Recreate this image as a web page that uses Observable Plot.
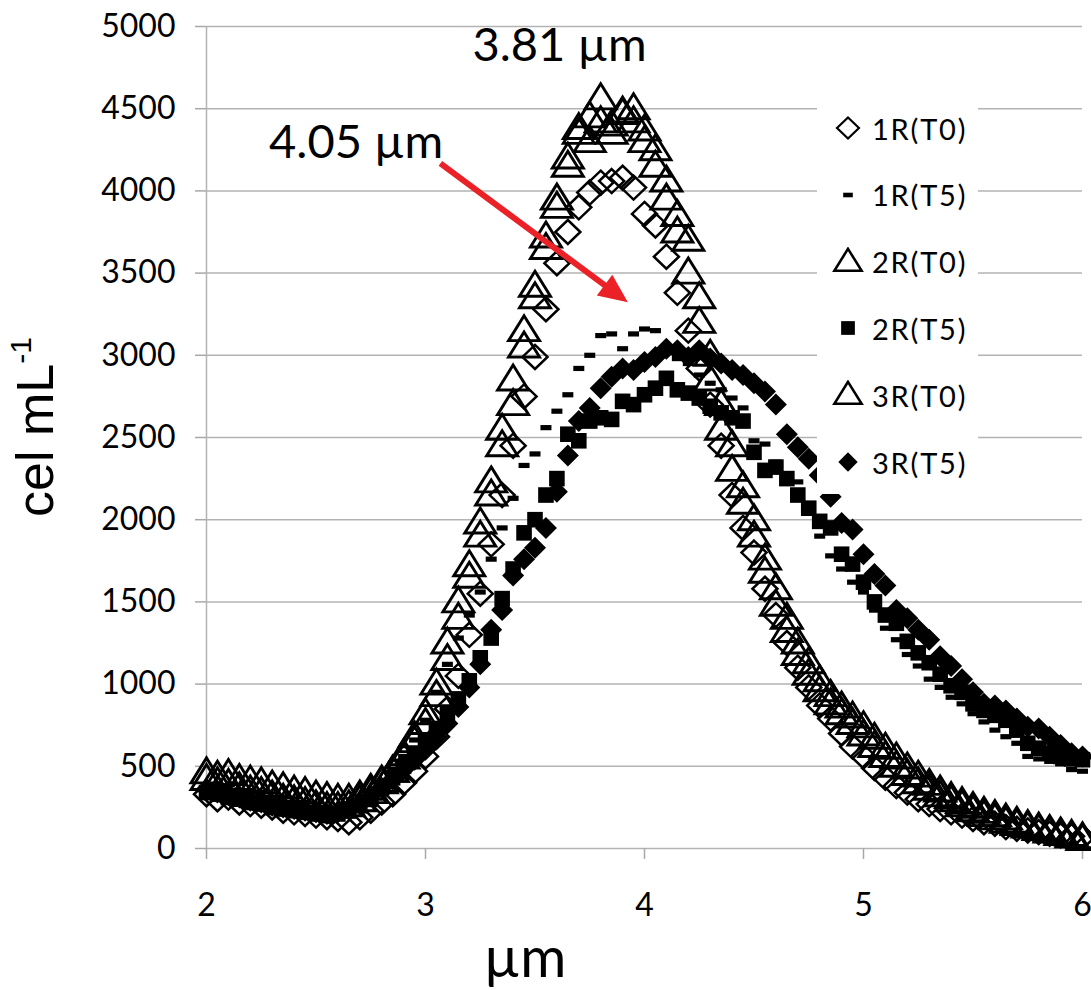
<!DOCTYPE html>
<html>
<head>
<meta charset="utf-8">
<script src="https://cdn.jsdelivr.net/npm/d3@7"></script>
<script src="https://cdn.jsdelivr.net/npm/@observablehq/plot@0.6"></script>
<style>
  body { margin: 0; background: #fff; }
  #wrap { position: relative; width: 1091px; height: 990px; font-family: Lato, "Open Sans", sans-serif; }
  #legend { position: absolute; left: 817px; top: 96px; width: 161px; height: 398px; background: #fff; }
  #legend .item { position: absolute; left: 0; height: 30px; display: flex; align-items: center; }
  #legend .item span { font-family: Lato, sans-serif; font-size: 29px; letter-spacing: 1.8px; color: #000; margin-left: 6px; }
</style>
</head>
<body>
<div id="wrap"></div>
<script>
// ---- data (cell size bins, µm) ----
const sizes = [2.00,2.05,2.10,2.15,2.20,2.25,2.30,2.35,2.40,2.45,2.50,2.55,2.60,2.65,2.70,2.75,2.80,2.85,2.90,2.95,
  3.00,3.05,3.10,3.15,3.20,3.25,3.30,3.35,3.40,3.45,3.50,3.55,3.60,3.65,3.70,3.75,3.80,3.85,3.90,3.95,
  4.00,4.05,4.10,4.15,4.20,4.25,4.30,4.35,4.40,4.45,4.50,4.55,4.60,4.65,4.70,4.75,4.80,4.85,4.90,4.95,
  5.00,5.05,5.10,5.15,5.20,5.25,5.30,5.35,5.40,5.45,5.50,5.55,5.60,5.65,5.70,5.75,5.80,5.85,5.90,5.95,6.00];

const r1T0 = [330,300,310,280,270,260,250,230,220,210,200,190,180,160,190,230,280,330,400,470,
  560,680,850,1050,1300,1550,1850,2150,2450,2750,2990,3280,3560,3750,3900,3990,4050,4060,4080,4020,
  3860,3790,3600,3380,3150,2920,2700,2450,2150,1950,1800,1580,1420,1250,1100,980,870,790,700,620,
  560,490,430,380,340,300,270,240,220,200,180,160,150,130,120,110,100,90,80,75,70];

const r1T5 = [380,360,350,330,320,300,290,270,260,240,230,220,230,250,290,340,410,480,560,660,
  780,950,1120,1280,1420,1560,1760,1950,2130,2330,2400,2560,2660,2760,2920,3000,3120,3130,3040,3130,
  3160,3150,3050,2980,2950,2880,2830,2790,2740,2680,2480,2460,2350,2260,2230,2050,1900,1780,1700,1620,
  1560,1450,1340,1270,1180,1110,1030,980,920,880,820,770,720,680,640,560,545,530,515,480,470];

const r2T0 = [460,440,450,420,410,400,380,370,350,340,320,310,300,300,320,360,410,470,550,650,
  760,930,1150,1400,1650,1900,2150,2450,2700,3050,3350,3650,3900,4150,4350,4450,4560,4400,4470,4420,
  4300,4150,3950,3750,3500,3200,2850,2550,2300,2100,1900,1680,1480,1320,1180,1060,960,880,820,760,
  690,620,560,500,450,400,360,320,290,260,230,200,180,160,145,130,115,100,85,70,55];

const r2T5 = [340,330,310,300,280,270,250,240,230,220,210,200,210,230,260,310,370,430,500,570,
  650,730,820,910,1020,1160,1280,1520,1700,1920,2000,2150,2250,2520,2480,2600,2620,2610,2720,2700,
  2760,2800,2860,2790,2770,2740,2690,2650,2620,2600,2410,2300,2320,2250,2150,2070,1990,1950,1790,1730,
  1620,1500,1420,1370,1260,1190,1130,1060,990,950,880,840,810,780,720,640,610,580,560,545,540];

const r3T0 = [420,400,390,370,350,340,320,300,290,280,260,250,250,260,290,340,400,470,570,680,
  820,1000,1250,1500,1720,1980,2230,2550,2850,3150,3420,3720,3950,4200,4380,4300,4420,4350,4480,4500,
  4370,4250,4060,3850,3700,3350,3000,2700,2450,2200,2000,1760,1580,1400,1250,1130,1020,930,860,800,
  740,670,610,550,490,440,390,350,310,280,250,220,200,180,160,140,125,110,95,80,65];

const r3T5 = [360,340,330,310,290,280,260,250,240,230,220,210,220,240,270,320,370,420,480,540,
  600,680,760,860,980,1120,1330,1450,1660,1760,1830,1950,2170,2390,2600,2680,2800,2870,2920,2910,
  2960,2990,3040,3030,2990,3030,2980,2950,2910,2880,2830,2780,2700,2520,2440,2370,2270,2140,1980,1940,
  1790,1670,1600,1450,1400,1330,1270,1170,1110,1030,950,880,870,840,790,740,730,680,630,580,560];

const seriesNames = ["1R(T0)", "1R(T5)", "2R(T0)", "2R(T5)", "3R(T0)", "3R(T5)"];
const seriesValues = [r1T0, r1T5, r2T0, r2T5, r3T0, r3T5];
const yTicks = [0,500,1000,1500,2000,2500,3000,3500,4000,4500,5000];
const xTicks = [2,3,4,5,6];
const peakLabels = ["3.81 µm", "4.05 µm"];
const xTitle = "µm";

// ---- marker shapes ----
const symOpenDiamond = {draw(c){c.moveTo(0,-12);c.lineTo(12.5,0);c.lineTo(0,12);c.lineTo(-12.5,0);c.closePath();}};
const symDash = {draw(c){c.moveTo(-5.5,-2.6);c.lineTo(5.5,-2.6);c.lineTo(5.5,2.6);c.lineTo(-5.5,2.6);c.closePath();}};
const symTriangle = {draw(c){c.moveTo(0,-15);c.lineTo(15.5,10);c.lineTo(-15.5,10);c.closePath();}};
const symSquare = {draw(c){c.moveTo(-7.8,-7.8);c.lineTo(7.8,-7.8);c.lineTo(7.8,7.8);c.lineTo(-7.8,7.8);c.closePath();}};
const symDiamond = {draw(c){c.moveTo(0,-11);c.lineTo(11,0);c.lineTo(0,11);c.lineTo(-11,0);c.closePath();}};
const symArrowHead = {draw(c){c.moveTo(3,0);c.lineTo(-26,-13);c.lineTo(-26,13);c.closePath();}};

const styles = [
  {symbol: symOpenDiamond, fill: "none", stroke: "#000", strokeWidth: 2.5},
  {symbol: symDash, fill: "#000", stroke: "none", strokeWidth: 0},
  {symbol: symTriangle, fill: "none", stroke: "#000", strokeWidth: 2.9},
  {symbol: symSquare, fill: "#000", stroke: "none", strokeWidth: 0},
  {symbol: symTriangle, fill: "none", stroke: "#000", strokeWidth: 2.9},
  {symbol: symDiamond, fill: "#000", stroke: "none", strokeWidth: 0}
];

const rows = seriesNames.map((name, i) => sizes.map((x, j) => ({x, y: seriesValues[i][j], series: name})));

const arrowStart = {x: 3.068, y: 4167};
const arrowEnd = {x: 3.913, y: 3333};
const arrowLineEnd = {x: 3.850, y: 3395};
const arrowAngle = 36.5;

const marks = [
  Plot.gridY(yTicks, {stroke: "#b3b3b3", strokeOpacity: 1, strokeWidth: 1.5}),
  Plot.ruleX([2], {stroke: "#b3b3b3", strokeWidth: 1.5}),
  Plot.axisY({ticks: yTicks, tickSize: 11, tickPadding: 20, fontSize: 32, stroke: "#a8a8a8", strokeWidth: 1.5, fill: "#000", label: null, tickFormat: d => String(d)}),
  Plot.axisX({ticks: xTicks, tickSize: 11, tickPadding: 34, fontSize: 32, stroke: "#a8a8a8", strokeWidth: 1.5, fill: "#000", label: null, tickFormat: d => String(d)}),
  ...rows.map((data, i) => Plot.dot(data, {x: "x", y: "y", r: 6, symbol: () => styles[i].symbol, fill: styles[i].fill, stroke: styles[i].stroke, strokeWidth: styles[i].strokeWidth})),
  Plot.link([0], {x1: () => arrowStart.x, y1: () => arrowStart.y, x2: () => arrowLineEnd.x, y2: () => arrowLineEnd.y, stroke: "#ea2227", strokeWidth: 6}),
  Plot.dot([0], {x: () => arrowEnd.x, y: () => arrowEnd.y, r: 6, symbol: () => symArrowHead, fill: "#ea2227", stroke: "none", rotate: arrowAngle}),
  Plot.text([peakLabels[0]], {x: () => 3.612, y: () => 4880, text: d => d, fontSize: 47, fontFamily: "Lato", fill: "#000", textAnchor: "middle"}),
  Plot.text([peakLabels[1]], {x: () => 2.683, y: () => 4290, text: d => d, fontSize: 47, fontFamily: "Lato", fill: "#000", textAnchor: "middle"})
];

const chart = Plot.plot({
  width: 1091,
  height: 990,
  marginLeft: 206,
  marginRight: 9,
  marginTop: 26,
  marginBottom: 142,
  x: {domain: [2, 6]},
  y: {domain: [0, 5000]},
  style: {fontFamily: "Lato, sans-serif", background: "#fff", overflow: "visible"},
  marks
});

const wrap = document.getElementById("wrap");
wrap.appendChild(chart);

// axis titles
const svg = d3.select(chart);
const yt = svg.append("text")
  .attr("transform", "translate(53,427) rotate(-90)")
  .attr("text-anchor", "middle")
  .attr("font-family", "'Liberation Sans', Arial, sans-serif")
  .attr("font-size", 52)
  .attr("fill", "#000");
yt.append("tspan").text("cel mL");
yt.append("tspan").attr("font-size", 30).attr("dy", -22).text("-1");

svg.append("text")
  .attr("x", 525).attr("y", 977)
  .attr("text-anchor", "middle")
  .attr("font-family", "Lato, sans-serif")
  .attr("font-size", 56)
  .attr("fill", "#000")
  .text(xTitle);

// legend
const legend = d3.select(wrap).append("div").attr("id", "legend");
seriesNames.forEach((name, i) => {
  const item = legend.append("div").attr("class", "item").style("top", (32 - 15 + i * 66.8) + "px");
  const s = item.append("svg").attr("width", 36).attr("height", 30).style("margin-left", "13px");
  s.append("path")
    .attr("transform", "translate(18,15) scale(0.88)")
    .attr("d", d3.symbol().type(styles[i].symbol)())
    .attr("fill", styles[i].fill)
    .attr("stroke", styles[i].stroke)
    .attr("stroke-width", styles[i].strokeWidth);
  item.append("span").text(name);
});
</script>
</body>
</html>
